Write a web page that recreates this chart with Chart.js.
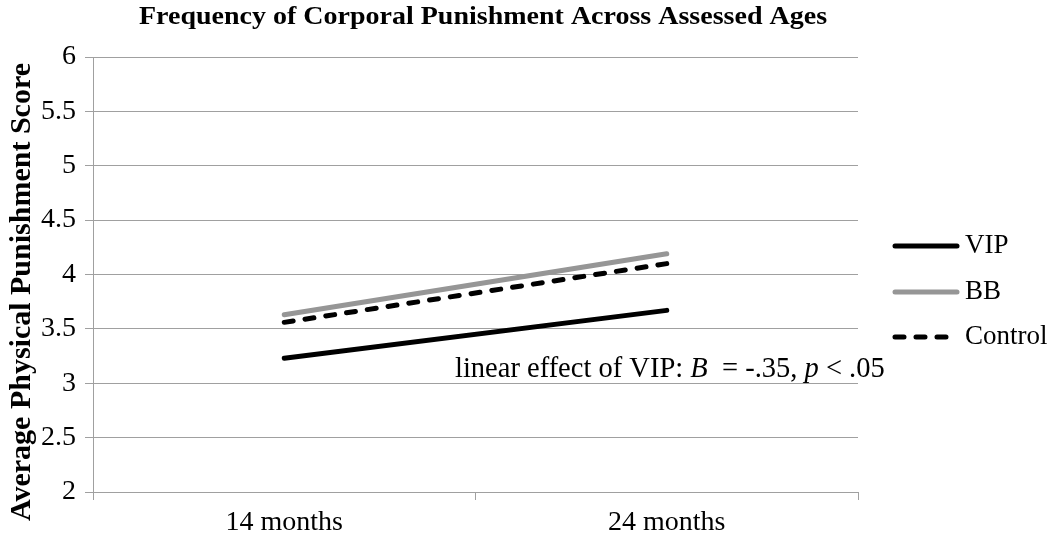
<!DOCTYPE html>
<html>
<head>
<meta charset="utf-8">
<script src="https://cdn.jsdelivr.net/npm/chart.js@4/dist/chart.umd.min.js"></script>
<style>
  html, body { margin: 0; padding: 0; background: #fff; }
  #wrap { width: 1050px; height: 534px; }
</style>
</head>
<body>
<div id="wrap"><canvas id="chart" width="1050" height="534"></canvas></div>
<script>
const SERIF = "'Liberation Serif', 'Times New Roman', serif";

const ages = ['14 months', '24 months'];
const vip = [3.23, 3.67];
const bb = [3.63, 4.19];
const control = [3.56, 4.10];
const yTicks = ['2', '2.5', '3', '3.5', '4', '4.5', '5', '5.5', '6'];

const chartTitle = 'Frequency of Corporal Punishment Across Assessed Ages';
const yTitle = 'Average Physical Punishment Score';
const note = [
    { t: 'linear effect of VIP: ', it: false },
    { t: 'B', it: true },
    { t: '  = -.35, ', it: false },
    { t: 'p', it: true },
    { t: ' < .05', it: false }
];

// title, y title, legend and note drawn by hand to sit where the original has them
const extras = {
    id: 'extras',
    afterDraw(chart) {
        const ctx = chart.ctx;
        const area = chart.chartArea;
        const y = chart.scales.y;
        ctx.save();
        ctx.fillStyle = '#000';
        ctx.textBaseline = 'middle';

        // the original title is a squat bold face, so squeeze it a little
        ctx.save();
        ctx.translate(483, 18);
        ctx.scale(1, 0.88);
        ctx.font = `bold 28px ${SERIF}`;
        ctx.textAlign = 'center';
        ctx.fillText(chartTitle, 0, 0);
        ctx.restore();

        ctx.save();
        ctx.translate(22, 292);
        ctx.rotate(-Math.PI / 2);
        ctx.font = `bold 30px ${SERIF}`;
        ctx.textAlign = 'center';
        ctx.fillText(yTitle, 0, 0);
        ctx.restore();

        ctx.textAlign = 'left';
        const legendY = [246, 292, 337];
        chart.data.datasets.forEach((ds, i) => {
            ctx.save();
            ctx.strokeStyle = ds.borderColor;
            ctx.lineWidth = ds.borderWidth;
            ctx.lineCap = 'round';
            ctx.setLineDash(ds.borderDash || []);
            ctx.beginPath();
            ctx.moveTo(895, legendY[i]);
            ctx.lineTo(957, legendY[i]);
            ctx.stroke();
            ctx.restore();
            ctx.font = `27px ${SERIF}`;
            ctx.fillText(ds.label, 965, legendY[i]);
        });

        let x = area.left + 362;
        const ny = y.getPixelForValue(3.13);
        note.forEach(p => {
            ctx.font = `${p.it ? 'italic ' : ''}28.5px ${SERIF}`;
            ctx.fillText(p.t, x, ny);
            x += ctx.measureText(p.t).width;
        });
        ctx.restore();
    }
};

new Chart(document.getElementById('chart'), {
    type: 'line',
    data: {
        labels: ages,
        datasets: [
            { label: 'VIP', data: vip, borderColor: '#000000', borderWidth: 5, borderCapStyle: 'round' },
            { label: 'BB', data: bb, borderColor: '#969696', borderWidth: 5, borderCapStyle: 'round' },
            { label: 'Control', data: control, borderColor: '#000000', borderWidth: 5, borderCapStyle: 'round', borderDash: [9, 12] }
        ]
    },
    options: {
        responsive: false,
        animation: false,
        layout: { padding: { left: 0, top: 57, right: 192, bottom: 0 } },
        elements: { point: { radius: 0 }, line: { tension: 0 } },
        plugins: { legend: { display: false }, title: { display: false }, tooltip: { enabled: false } },
        scales: {
            x: {
                offset: true,
                grid: { offset: true, drawOnChartArea: false, drawTicks: true, tickLength: 8, color: '#a0a0a0' },
                border: { color: '#a0a0a0' },
                ticks: { color: '#000', padding: 6, font: { family: SERIF, size: 28 } },
                afterFit: s => { s.height = 42; }
            },
            y: {
                min: 2,
                max: 6,
                ticks: {
                    stepSize: 0.5,
                    color: '#000',
                    padding: 9,
                    font: { family: SERIF, size: 28 },
                    callback: (v, i) => yTicks[i]
                },
                grid: { color: '#a0a0a0', tickLength: 8 },
                border: { color: '#a0a0a0' },
                afterFit: s => { s.width = 93; }
            }
        }
    },
    plugins: [extras]
});
</script>
</body>
</html>
